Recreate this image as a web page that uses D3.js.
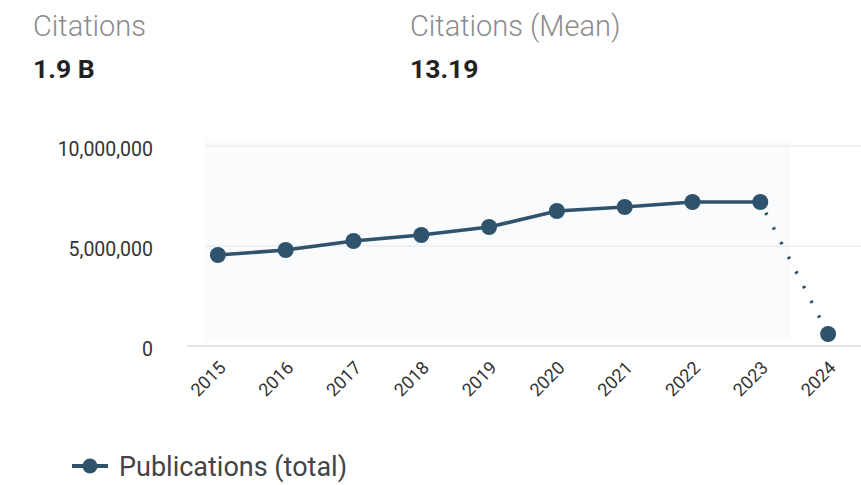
<!DOCTYPE html>
<html><head><meta charset="utf-8">
<script src="https://cdn.jsdelivr.net/npm/d3@7"></script>
<style>body{margin:0;background:#fff;font-family:Roboto,"Noto Sans",sans-serif;}</style>
</head><body><svg id="c" width="861" height="485"></svg>
<script>
const years = ["2015","2016","2017","2018","2019","2020","2021","2022","2023","2024"];
const publications = [4550000, 4800000, 5250000, 5550000, 5950000, 6750000, 6950000, 7200000, 7200000, 600000];
const yTicks = [0, 5000000, 10000000];
const kpiLabels = ["Citations", "Citations (Mean)"];
const kpiValues = ["1.9 B", "13.19"];
const seriesName = "Publications (total)";

const svg = d3.select("#c");
const color = "#2f536d";
const x = d3.scaleBand().domain(years).range([184, 862]);
const y = d3.scaleLinear().domain([0, 10000000]).range([346, 146]);
const cx = d => x(d) + x.bandwidth()/2;

// KPIs
const kx = [33, 410];
kpiLabels.forEach((t,i)=>{
  svg.append("text").attr("x",kx[i]).attr("y",36).attr("font-size",29).attr("fill","#8c8c8c").attr("font-weight",300).text(t);
  svg.append("text").attr("x",kx[i]).attr("y",78).attr("font-size",26.5).attr("fill","#222").attr("font-weight",700).text(kpiValues[i]);
});

// faint background
svg.append("rect").attr("x",205).attr("y",140).attr("width",585).attr("height",200).attr("fill","#f9fbfd");

// gridlines
const yAxis = d3.axisLeft(y).tickValues(yTicks).tickFormat(d3.format(",")).tickSize(0).tickPadding(0);
const ga = svg.append("g").attr("transform","translate(153,0)").call(yAxis);
ga.select(".domain").remove();
ga.selectAll("text").attr("font-size",19.5).attr("fill","#333").attr("dy","0.5em").attr("font-family","Roboto,sans-serif");
svg.append("g").selectAll("line").data(yTicks.filter(d=>d>0)).join("line")
  .attr("x1",205).attr("x2",861).attr("y1",d=>y(d)).attr("y2",d=>y(d))
  .attr("stroke","#e4e4e4").attr("stroke-width",1);
svg.append("line").attr("x1",187).attr("x2",861).attr("y1",y(0)).attr("y2",y(0)).attr("stroke","#cfcfcf").attr("stroke-width",1.2);

// x axis labels
const xAxis = d3.axisBottom(x).tickSize(0).tickPadding(0);
const gx = svg.append("g").attr("transform","translate(0,360)").call(xAxis);
gx.select(".domain").remove();
gx.selectAll("text").attr("font-size",18).attr("fill","#333").attr("font-family","Roboto,sans-serif")
  .attr("text-anchor","end").attr("dy","0.7em").attr("transform","translate(0,0) rotate(-45)");

// line
const pts = years.map((d,i)=>[cx(d), y(publications[i])]);
const line = d3.line();
svg.append("path").attr("d",line(pts.slice(0,9))).attr("fill","none").attr("stroke",color).attr("stroke-width",3.6);
svg.append("path").attr("d",line(pts.slice(8,10))).attr("fill","none").attr("stroke",color).attr("stroke-width",3.4)
  .attr("stroke-dasharray","2.5,14").attr("stroke-dashoffset",-12);
svg.append("g").selectAll("circle").data(pts).join("circle")
  .attr("cx",d=>d[0]).attr("cy",d=>d[1]).attr("r",8).attr("fill",color);

// legend
svg.append("line").attr("x1",72).attr("x2",108).attr("y1",466).attr("y2",466).attr("stroke",color).attr("stroke-width",4);
svg.append("circle").attr("cx",90).attr("cy",466).attr("r",7.5).attr("fill",color);
svg.append("text").attr("x",119).attr("y",476).attr("font-size",27).attr("fill","#444").text(seriesName);
</script></body></html>
